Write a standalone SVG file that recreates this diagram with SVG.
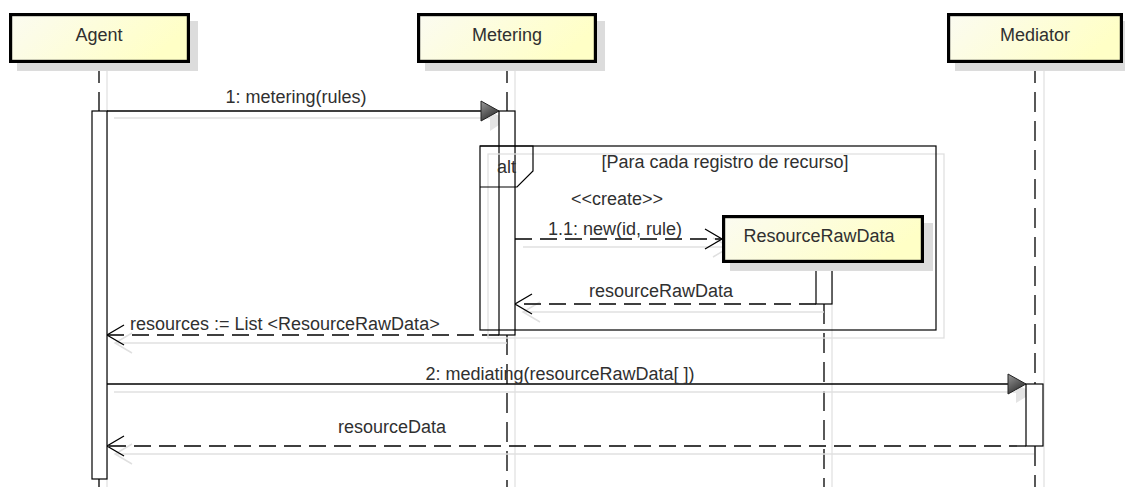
<svg xmlns="http://www.w3.org/2000/svg" width="1125" height="487" viewBox="0 0 1125 487">
<defs>
<linearGradient id="boxFill" x1="0" y1="0" x2="1" y2="0.3">
<stop offset="0" stop-color="#fbfbf1"/>
<stop offset="1" stop-color="#ffffc6"/>
</linearGradient>
<linearGradient id="headFill" x1="0" y1="0" x2="0.6" y2="1">
<stop offset="0" stop-color="#9a9a9a"/>
<stop offset="1" stop-color="#2e2e2e"/>
</linearGradient>
<style>
text{font-family:"Liberation Sans",Arial,sans-serif;font-size:18px;fill:#303030}
.box{fill:url(#boxFill);stroke:#000;stroke-width:3.2}
.bshadow{fill:#dcdcdc}
.life{stroke:#000;stroke-width:1.3;stroke-dasharray:20 9;fill:none}
.lshadow{stroke:#e2e2e2;stroke-width:1.3;fill:none}
.bar{fill:#fff;stroke:#000;stroke-width:1.2}
.msg{stroke:#000;stroke-width:1.3;fill:none}
.ret{stroke:#000;stroke-width:1.3;fill:none;stroke-dasharray:17 8}
.open{stroke:#000;stroke-width:1.3;fill:none}
.head{fill:url(#headFill);stroke:#222;stroke-width:1}
.mshadow{stroke:#e0e0e0;stroke-width:1.5;fill:none}
.hshadow{fill:#e4e4e4;stroke:none}
.frame{fill:none;stroke:#000;stroke-width:1.2}
.fshadow{fill:none;stroke:#e0e0e0;stroke-width:1.3}
.c{text-anchor:middle}
</style>
</defs>
<rect width="1125" height="487" fill="#fff"/>

<!-- shadows of lifelines -->
<g id="lifeline-shadows">
<line class="lshadow" x1="107" y1="71" x2="107" y2="487"/>
<line class="lshadow" x1="515" y1="71" x2="515" y2="487"/>
<line class="lshadow" x1="1044" y1="71" x2="1044" y2="487"/>
<line class="lshadow" x1="832" y1="271" x2="832" y2="487"/>
</g>

<!-- lifelines -->
<g id="lifelines">
<line class="life" x1="99" y1="63" x2="99" y2="111"/>
<line class="life" x1="99" y1="479" x2="99" y2="487"/>
<line class="life" x1="507" y1="63" x2="507" y2="111"/>
<line class="life" x1="507" y1="335" x2="507" y2="487"/>
<line class="life" x1="1035" y1="63" x2="1035" y2="384"/>
<line class="life" x1="1035" y1="446" x2="1035" y2="487"/>
<line class="life" x1="824" y1="304" x2="824" y2="487"/>
</g>

<!-- connectors -->
<g id="connectors">
<!-- shadows -->
<line class="mshadow" x1="114" y1="118" x2="492" y2="118"/>
<polygon class="hshadow" points="490,112 508,119 490,131"/>
<line class="mshadow" x1="523" y1="247" x2="728" y2="247"/>
<polyline class="mshadow" points="713,238 730,247 713,257"/>
<line class="mshadow" x1="523" y1="312" x2="824" y2="312"/>
<polyline class="mshadow" points="540,302 523,312 540,322"/>
<line class="mshadow" x1="115" y1="343" x2="507" y2="343"/>
<polyline class="mshadow" points="132,333 115,343 132,353"/>
<line class="mshadow" x1="114" y1="392" x2="1018" y2="392"/>
<polygon class="hshadow" points="1016,385 1034,392 1016,403"/>
<line class="mshadow" x1="115" y1="454" x2="1034" y2="454"/>
<polyline class="mshadow" points="132,444 115,454 132,464"/>

<!-- 1: metering(rules) -->
<g id="msg1">
<line class="msg" x1="107" y1="111" x2="483" y2="111"/>
<polygon class="head" points="481,101 499,111 481,121"/>
<text class="c" x="296" y="103">1: metering(rules)</text>
</g>
<!-- 1.1: new(id, rule) create -->
<g id="msg1-1">
<line class="ret" x1="515" y1="239" x2="721" y2="239"/>
<polyline class="open" points="705,229 722,239 705,249"/>
<text class="c" x="617" y="205">&lt;&lt;create&gt;&gt;</text>
<text class="c" x="615" y="235">1.1: new(id, rule)</text>
</g>
<!-- return resourceRawData -->
<g id="ret-resourceRawData">
<line class="ret" x1="816" y1="304" x2="516" y2="304"/>
<polyline class="open" points="532,294 515,304 532,314"/>
<text class="c" x="661" y="297">resourceRawData</text>
</g>
<!-- return resources -->
<g id="ret-resources">
<line class="ret" x1="499" y1="335" x2="108" y2="335"/>
<polyline class="open" points="124,325 107,335 124,345"/>
<text x="130" y="330">resources := List &lt;ResourceRawData&gt;</text>
</g>
<!-- 2: mediating -->
<g id="msg2">
<line class="msg" x1="107" y1="384" x2="1010" y2="384"/>
<polygon class="head" points="1008,374 1026,384 1008,394"/>
<text class="c" x="560" y="380">2: mediating(resourceRawData[ ])</text>
</g>
<!-- return resourceData -->
<g id="ret-resourceData">
<line class="ret" x1="1026" y1="446" x2="108" y2="446"/>
<polyline class="open" points="124,436 107,446 124,456"/>
<text class="c" x="392" y="433">resourceData</text>
</g>
</g>

<!-- activation bars -->
<g id="activations">
<rect class="bar" x="92" y="111" width="15" height="368"/>
<rect class="bar" x="499" y="111" width="16" height="224"/>
<rect class="bar" x="816" y="263" width="16" height="41"/>
<rect class="bar" x="1026" y="384" width="17" height="62"/>
</g>

<!-- alt combined fragment -->
<g id="alt-fragment">
<rect class="fshadow" x="488" y="154" width="456" height="184"/>
<rect class="frame" x="480" y="146" width="456" height="184"/>
<path class="frame" d="M480,146 H533 V171 L517,187 H480"/>
<text x="497" y="173">alt</text>
<text class="c" x="725" y="168">[Para cada registro de recurso]</text>
</g>

<!-- lifeline heads -->
<g id="agent">
<rect class="bshadow" x="17" y="21" width="181" height="50"/>
<rect class="box" x="10.6" y="14.6" width="177.8" height="46.8"/>
<text class="c" x="99" y="41">Agent</text>
</g>
<g id="metering">
<rect class="bshadow" x="425" y="21" width="180" height="50"/>
<rect class="box" x="418.6" y="14.6" width="176.8" height="46.8"/>
<text class="c" x="507" y="41">Metering</text>
</g>
<g id="mediator">
<rect class="bshadow" x="955" y="21" width="176" height="50"/>
<rect class="box" x="948.6" y="14.6" width="172.8" height="46.8"/>
<text class="c" x="1035" y="41">Mediator</text>
</g>
<g id="resourceRawData">
<rect class="bshadow" x="730" y="223" width="203" height="48"/>
<rect class="box" x="723.6" y="216.6" width="198.8" height="44.8"/>
<text class="c" x="819" y="242">ResourceRawData</text>
</g>
</svg>
